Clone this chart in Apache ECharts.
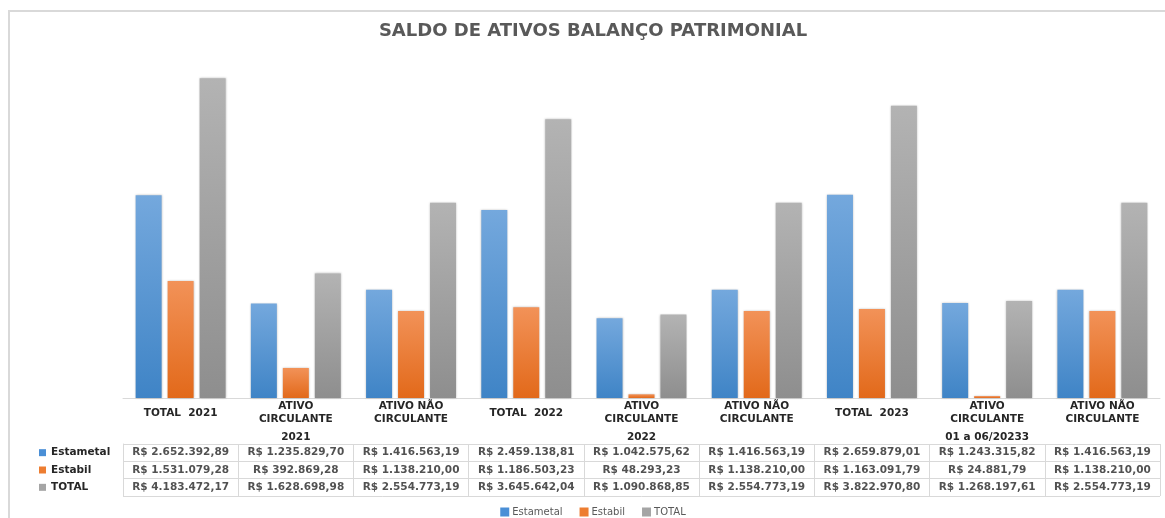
<!DOCTYPE html>
<html>
<head>
<meta charset="utf-8">
<script src="https://cdn.jsdelivr.net/npm/echarts@6/dist/echarts.min.js"></script>
<style>
  html, body { margin: 0; padding: 0; background: #fff; overflow: hidden; width: 1165px; height: 518px; }
  #chart { width: 1186px; height: 518px; }
</style>
</head>
<body>
<div id="chart"></div>
<script>
const categories = [
  "TOTAL  2021", "ATIVO\nCIRCULANTE", "ATIVO NÃO\nCIRCULANTE",
  "TOTAL  2022", "ATIVO\nCIRCULANTE", "ATIVO NÃO\nCIRCULANTE",
  "TOTAL  2023", "ATIVO\nCIRCULANTE", "ATIVO NÃO\nCIRCULANTE"
]
const groups = ["2021", "2022", "01 a 06/20233"]
const seriesNames = ["Estametal", "Estabil", "TOTAL"]
const estametal = [2652392.89, 1235829.70, 1416563.19, 2459138.81, 1042575.62, 1416563.19, 2659879.01, 1243315.82, 1416563.19]
const estabil = [1531079.28, 392869.28, 1138210.00, 1186503.23, 48293.23, 1138210.00, 1163091.79, 24881.79, 1138210.00]
const total = [4183472.17, 1628698.98, 2554773.19, 3645642.04, 1090868.85, 2554773.19, 3822970.80, 1268197.61, 2554773.19]

const font = "DejaVu Sans"
const lineColor = "#d9d9d9"
const keyColors = ["#4a8fd6", "#ed7d31", "#a5a5a5"]

const grad = (top, bottom) => ({
  type: "linear", x: 0, y: 0, x2: 0, y2: 1,
  colorStops: [{ offset: 0, color: top }, { offset: 1, color: bottom }]
})
const barColors = [grad("#74a8dd", "#3f84c6"), grad("#f29258", "#e2691a"), grad("#b3b3b3", "#8e8e8e")]

// R$ 1.234.567,89
const brl = (v) => {
  const parts = v.toFixed(2).split(".")
  return "R$ " + parts[0].replace(/\B(?=(\d{3})+(?!\d))/g, ".") + "," + parts[1]
}

const rows = [estametal, estabil, total]
const cells = []
rows.forEach((arr, r) => arr.forEach((v, i) => cells.push([i, r, v])))

const chart = echarts.init(document.getElementById("chart"))
const option = {
  animation: false,
  textStyle: { fontFamily: font },
  // chart-area border (left + top only, the rest is cut off in the screenshot)
  graphic: [
    { type: "line", silent: true, shape: { x1: 9, y1: 11, x2: 9, y2: 518 }, style: { stroke: lineColor, lineWidth: 2 } },
    { type: "line", silent: true, shape: { x1: 8, y1: 11, x2: 1186, y2: 11 }, style: { stroke: lineColor, lineWidth: 2 } }
  ],
  title: {
    text: "SALDO DE ATIVOS BALANÇO PATRIMONIAL",
    left: "center",
    top: 17,
    textStyle: { fontFamily: font, fontSize: 18, fontWeight: "bold", color: "#595959" }
  },
  legend: {
    top: 502,
    left: "center",
    icon: "rect",
    itemWidth: 9,
    itemHeight: 9,
    itemGap: 17,
    selectedMode: false,
    data: seriesNames.map((n, k) => ({ name: n, itemStyle: { color: keyColors[k] } })),
    textStyle: { fontFamily: font, fontSize: 10, color: "#595959", padding: [0, 0, 0, -2] }
  },
  grid: [
    { left: 123, right: 26, top: 54, bottom: 120 },
    { left: 123, right: 26, top: 444, height: 52 }
  ],
  xAxis: [
    {
      type: "category",
      gridIndex: 0,
      data: categories,
      axisLine: { lineStyle: { color: lineColor, width: 1 } },
      axisTick: { length: 30, interval: 0, lineStyle: { color: lineColor } },
      axisLabel: {
        interval: 0, margin: 15, verticalAlign: "middle", lineHeight: 13,
        fontFamily: font, fontSize: 10.5, fontWeight: "bold", color: "#262626"
      }
    },
    {
      type: "category",
      gridIndex: 0,
      position: "bottom",
      data: groups,
      axisLine: { show: false },
      axisTick: { length: 98, interval: 0, lineStyle: { color: lineColor } },
      axisLabel: {
        interval: 0, margin: 39, verticalAlign: "middle",
        fontFamily: font, fontSize: 10.5, fontWeight: "bold", color: "#262626"
      }
    },
    {
      type: "category",
      gridIndex: 1,
      data: categories,
      axisLine: { show: false },
      axisTick: { show: false },
      axisLabel: { show: false },
      splitLine: { show: true, interval: 0, lineStyle: { color: lineColor } }
    }
  ],
  yAxis: [
    { type: "value", gridIndex: 0, min: 0, max: 4500000, show: false },
    {
      type: "category",
      gridIndex: 1,
      inverse: true,
      data: seriesNames,
      axisLine: { show: true, lineStyle: { color: lineColor } },
      axisTick: { length: 88, interval: 0, lineStyle: { color: lineColor } },
      splitLine: { show: true, interval: 0, lineStyle: { color: lineColor } },
      axisLabel: {
        interval: 0,
        margin: 84,
        align: "left",
        formatter: (name, idx) => "{k" + idx + "|}{n|" + name + "}",
        rich: {
          k0: { width: 7, height: 7, backgroundColor: keyColors[0] },
          k1: { width: 7, height: 7, backgroundColor: keyColors[1] },
          k2: { width: 7, height: 7, backgroundColor: keyColors[2] },
          n: { fontFamily: font, fontSize: 10.5, fontWeight: "bold", color: "#262626", padding: [0, 0, 0, 5] }
        }
      }
    },
    {
      type: "category",
      gridIndex: 1,
      data: seriesNames,
      offset: 88,
      axisLine: { show: true, lineStyle: { color: lineColor } },
      axisTick: { show: false },
      axisLabel: { show: false }
    }
  ],
  series: [
    ...[estametal, estabil, total].map((arr, k) => ({
      name: seriesNames[k],
      type: "bar",
      xAxisIndex: 0,
      yAxisIndex: 0,
      data: arr,
      barWidth: 26,
      barGap: "23%",
      itemStyle: { color: barColors[k], shadowBlur: 2, shadowColor: "rgba(0,0,0,0.25)" }
    })),
    {
      type: "scatter",
      xAxisIndex: 2,
      yAxisIndex: 1,
      silent: true,
      symbolSize: 1,
      itemStyle: { color: "rgba(0,0,0,0)" },
      data: cells,
      label: {
        show: true,
        position: "inside",
        formatter: (p) => brl(p.value[2]),
        fontFamily: font, fontSize: 10.5, fontWeight: "bold", color: "#262626"
      }
    }
  ]
}
chart.setOption(option)
</script>
</body>
</html>
